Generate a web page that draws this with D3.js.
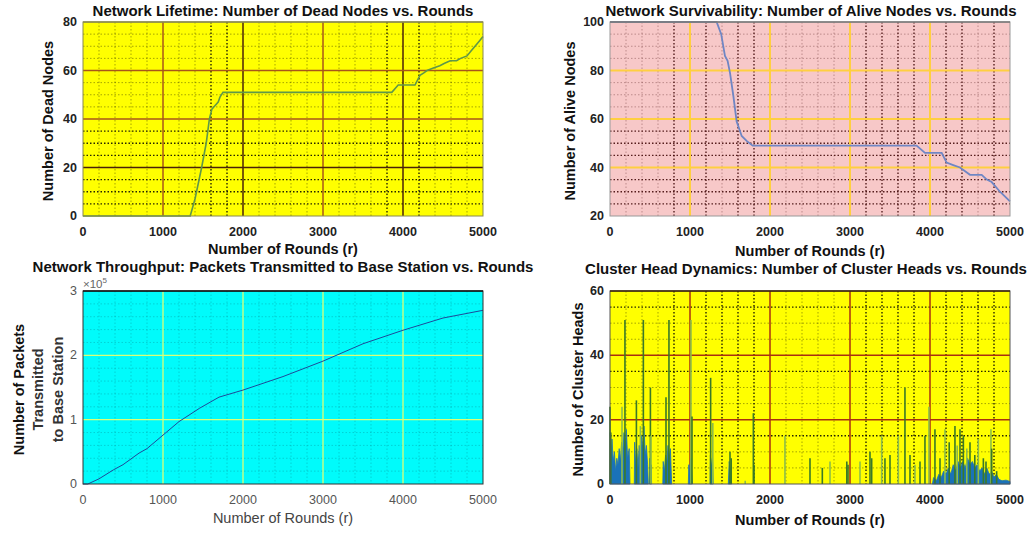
<!DOCTYPE html>
<html>
<head>
<meta charset="utf-8">
<script src="https://cdn.jsdelivr.net/npm/d3@7"></script>
<style>
  body { margin: 0; background: #ffffff; }
  svg { font-family: "Liberation Sans", Arial, sans-serif; }
</style>
</head>
<body>
<div id="chart"></div>
<script>
// rounds axis shared by all four plots
var roundTicks = [0, 1000, 2000, 3000, 4000, 5000];

// network lifetime (dead nodes)
var deadRounds = [0, 1340, 1400, 1483, 1540, 1580, 1610, 1690, 1712, 1750, 3860, 3940, 4150, 4212, 4260, 4300, 4380, 4460, 4520, 4590, 4670, 4720, 4800, 4850, 4900, 4950, 5000];
var deadNodes  = [0, 0, 7, 20, 30, 40, 44, 47, 49, 51, 51, 54, 54, 58, 59, 60, 61, 62, 63, 64, 64, 65, 66, 68, 70, 72, 74];
var deadTicks = [0, 20, 40, 60, 80];

// network survivability (alive nodes)
var aliveRounds = [0, 1333, 1390, 1437, 1470, 1500, 1540, 1583, 1615, 1646, 1708, 1783, 3833, 3937, 4146, 4208, 4290, 4375, 4500, 4646, 4710, 4771, 4875, 5000];
var aliveNodes  = [100, 100, 95, 86, 84, 79, 70, 59, 56, 53, 51, 49, 49, 46, 46, 42, 41, 40, 37, 37, 35, 34, 30, 26];
var aliveTicks = [20, 40, 60, 80, 100];

// throughput (packets to base station)
var tpRounds  = [0, 60, 200, 380, 500, 700, 800, 1000, 1200, 1460, 1700, 2000, 2500, 3000, 3500, 4000, 4500, 5000];
var tpPackets = [0, 0, 8000, 22000, 30000, 48000, 55000, 76000, 97000, 118000, 135000, 146000, 167000, 191000, 218000, 239000, 258000, 270000];
var tpTicks = [0, 100000, 200000, 300000];

// cluster heads: single-round peaks and dense bursts (upper envelope)
var chSpikes = [[0,24],[10,16],[150,24],[187,51],[330,26],[380,18],[417,51],[505,30],[512,15],[700,27],[737,51],
  [1012,51],[1025,21],[1258,33],[1285,19],[1500,10],[1515,8],[1690,1],[1792,22],[1800,6],[2187,15],[2500,8],
  [2654,5],[2750,7],[2960,7],[2975,6],[3125,7],[3250,10],[3271,8],[3396,15],[3437,8],[3500,9],[3604,15],
  [3687,30],[3750,9],[3812,6],[3875,7],[3937,15],[3987,24],[4062,17],[4125,8],[4187,17],[4240,13],[4312,18],
  [4340,12],[4375,17],[4417,15],[4460,11],[4500,13],[4560,9],[4604,14],[4667,8],[4700,7],[4762,17],[4771,11],[4833,4]];
var chBursts = [
  [[0,0],[3,16],[15,9],[25,14],[40,7],[55,10],[70,4],[85,8],[100,6],[115,11],[130,7],[145,13],[160,10],[175,16],[190,12],[205,17],[220,8],[240,11],[250,0]],
  [[304,0],[308,13],[320,6],[335,11],[350,5],[365,12],[380,8],[395,15],[410,11],[425,18],[440,9],[455,12],[470,6],[479,0]],
  [[495,0],[500,8],[508,4],[515,6],[520,0]],
  [[660,0],[665,7],[680,4],[695,9],[710,6],[725,12],[740,8],[755,11],[771,0]],
  [[979,0],[985,6],[995,3],[1010,8],[1020,4],[1029,0]],
  [[1250,0],[1255,9],[1265,5],[1280,8],[1291,0]],
  [[1479,0],[1490,7],[1505,4],[1521,0]],
  [[4030,0],[4045,2],[4080,1],[4110,3],[4140,2],[4170,4],[4200,3],[4230,5],[4260,3],[4290,6],[4320,4],[4350,7],[4380,5],
   [4410,7],[4440,5],[4470,8],[4500,6],[4530,7],[4560,5],[4590,6],[4620,4],[4650,5],[4680,3],[4710,5],[4740,3],[4770,4],
   [4800,2],[4830,3],[4860,1.5],[4900,1],[4950,1.2],[5000,0.8]]
];
var chTicks = [0, 20, 40, 60];

var svg = d3.select("#chart")
            .append("svg")
            .attr("width", 1035)
            .attr("height", 533);

function zip(xs, ys){
  return xs.map(function(x, i){ return [x, ys[i]]; });
}

function drawPanel(p){
  var x = d3.scaleLinear().domain([0, 5000]).range([p.left, p.right]);
  var y = d3.scaleLinear().domain(p.yDomain).range([p.bottom, p.top]);
  var g = svg.append("g");

  g.append("rect")
   .attr("x", p.left).attr("y", p.top)
   .attr("width", p.right - p.left).attr("height", p.bottom - p.top)
   .attr("fill", p.bg);

  // minor grid (dotted)
  d3.range(200, 5000, 200).forEach(function(r){
    if (r % 1000 == 0) return;
    var heavy = p.heavyX.indexOf(r) >= 0;
    g.append("line")
     .attr("x1", x(r)).attr("x2", x(r)).attr("y1", p.top).attr("y2", p.bottom)
     .attr("stroke", p.minorColor)
     .attr("stroke-width", heavy ? 1.4 : 1)
     .attr("stroke-dasharray", "1.5,2")
     .attr("opacity", heavy ? 0.85 : p.minorOpacity);
  });
  d3.range(p.yDomain[0] + p.yMinor, p.yDomain[1], p.yMinor).forEach(function(v){
    if (p.yTicks.indexOf(v) >= 0) return;
    var heavy = p.heavyY.indexOf(v) >= 0;
    g.append("line")
     .attr("x1", p.left).attr("x2", p.right).attr("y1", y(v)).attr("y2", y(v))
     .attr("stroke", p.minorColor)
     .attr("stroke-width", heavy ? 1.4 : 1)
     .attr("stroke-dasharray", "1.5,2")
     .attr("opacity", heavy ? 0.85 : p.minorOpacity);
  });

  // major grid
  roundTicks.slice(1, -1).forEach(function(r){
    g.append("line")
     .attr("x1", x(r)).attr("x2", x(r)).attr("y1", p.top).attr("y2", p.bottom)
     .attr("stroke", p.darkX.indexOf(r) >= 0 ? p.majorDark : p.majorColor)
     .attr("stroke-width", p.majorWidth);
  });
  p.yTicks.slice(1, -1).forEach(function(v){
    g.append("line")
     .attr("x1", p.left).attr("x2", p.right).attr("y1", y(v)).attr("y2", y(v))
     .attr("stroke", p.darkY.indexOf(v) >= 0 ? p.majorDark : p.majorColor)
     .attr("stroke-width", p.majorWidth);
  });

  p.drawData(g, x, y);

  g.append("rect")
   .attr("x", p.left).attr("y", p.top)
   .attr("width", p.right - p.left).attr("height", p.bottom - p.top)
   .attr("fill", "none")
   .attr("stroke", p.border)
   .attr("stroke-width", 1);
  g.append("line")
   .attr("x1", p.left).attr("x2", p.right).attr("y1", p.top).attr("y2", p.top)
   .attr("stroke", p.topBorder).attr("stroke-width", 1.5);

  // tick labels
  g.selectAll(".xt").data(roundTicks).enter().append("text")
   .attr("x", function(d){ return x(d); })
   .attr("y", p.bottom + 20)
   .attr("text-anchor", "middle")
   .attr("font-size", "12.5px")
   .attr("font-weight", p.tickWeight)
   .attr("fill", p.tickColor)
   .text(function(d){ return d; });
  g.selectAll(".yt").data(p.yTicks).enter().append("text")
   .attr("x", p.left - 6)
   .attr("y", function(d){ return y(d) + 4; })
   .attr("text-anchor", "end")
   .attr("font-size", "12.5px")
   .attr("font-weight", p.tickWeight)
   .attr("fill", p.tickColor)
   .text(function(d){ return p.tickFormat ? p.tickFormat(d) : d; });

  // titles and labels
  g.append("text")
   .attr("x", p.titleX).attr("y", p.titleY)
   .attr("text-anchor", "middle")
   .attr("font-size", "15px").attr("font-weight", "bold").attr("fill", "#111")
   .text(p.title);
  g.append("text")
   .attr("x", (p.left + p.right) / 2).attr("y", p.xLabelY)
   .attr("text-anchor", "middle")
   .attr("font-size", "14.5px")
   .attr("font-weight", p.xLabelWeight)
   .attr("fill", p.xLabelColor)
   .text("Number of Rounds (r)");
  p.yLabel.forEach(function(line, i){
    g.append("text")
     .attr("transform", "translate(" + p.yLabelX[i] + "," + ((p.top + p.bottom) / 2 + 2) + ") rotate(-90)")
     .attr("text-anchor", "middle")
     .attr("dominant-baseline", "central")
     .attr("font-size", "14.5px")
     .attr("font-weight", "bold")
     .attr("fill", i == 0 ? "#111" : "#333")
     .text(line);
  });
}

var yellowGrid = {
  bg: "#ffff00", minorColor: "#000", minorOpacity: 0.35,
  majorColor: "#a8561a", majorDark: "#4a2208", majorWidth: 1.5,
  tickWeight: "bold", tickColor: "#222", xLabelWeight: "bold", xLabelColor: "#111"
};

drawPanel(Object.assign({}, yellowGrid, {
  left: 83, right: 483, top: 22, bottom: 216,
  yDomain: [0, 80], yTicks: deadTicks, yMinor: 5,
  heavyX: [1600, 1800, 3800, 4200], heavyY: [5, 10, 15, 25, 30, 35],
  darkX: [2000, 4000], darkY: [20],
  border: "#8a8a50", topBorder: "#8a8a50",
  title: "Network Lifetime: Number of Dead Nodes vs. Rounds", titleX: 283, titleY: 16,
  xLabelY: 254, yLabel: ["Number of Dead Nodes"], yLabelX: [48],
  drawData: function(g, x, y){
    g.append("path")
     .datum(zip(deadRounds, deadNodes))
     .attr("fill", "none")
     .attr("stroke", "#5f9848")
     .attr("stroke-width", 1.6)
     .attr("d", d3.line().x(function(d){ return x(d[0]); }).y(function(d){ return y(d[1]); }));
  }
}));

drawPanel({
  left: 610, right: 1010, top: 22, bottom: 216,
  yDomain: [20, 100], yTicks: aliveTicks, yMinor: 5,
  bg: "#f7c8c8", minorColor: "#3a0000", minorOpacity: 0.3,
  majorColor: "#ffcf40", majorDark: "#ffcf40", majorWidth: 2,
  heavyX: [800, 1200, 1600, 1800, 3200, 3400, 3600, 3800, 4200, 4400, 4800], heavyY: [25, 30, 35, 45, 50, 55],
  darkX: [], darkY: [],
  border: "#999", topBorder: "#777",
  tickWeight: "bold", tickColor: "#222", xLabelWeight: "bold", xLabelColor: "#111",
  title: "Network Survivability: Number of Alive Nodes vs. Rounds", titleX: 811, titleY: 16,
  xLabelY: 256, yLabel: ["Number of Alive Nodes"], yLabelX: [570],
  drawData: function(g, x, y){
    g.append("path")
     .datum(zip(aliveRounds, aliveNodes))
     .attr("fill", "none")
     .attr("stroke", "#6f86c4")
     .attr("stroke-width", 1.8)
     .attr("d", d3.line().x(function(d){ return x(d[0]); }).y(function(d){ return y(d[1]); }));
  }
});

drawPanel({
  left: 83, right: 483, top: 291, bottom: 484,
  yDomain: [0, 300000], yTicks: tpTicks, yMinor: 20000,
  bg: "#00fbfb", minorColor: "#007a80", minorOpacity: 0.3,
  majorColor: "#d8ff78", majorDark: "#d8ff78", majorWidth: 1.3,
  heavyX: [], heavyY: [],
  darkX: [], darkY: [],
  border: "#333", topBorder: "#111",
  tickWeight: "normal", tickColor: "#555", xLabelWeight: "normal", xLabelColor: "#444",
  tickFormat: function(d){ return d / 100000; },
  title: "Network Throughput: Packets Transmitted to Base Station vs. Rounds", titleX: 283, titleY: 272,
  xLabelY: 523, yLabel: ["Number of Packets", "Transmitted", "to Base Station"], yLabelX: [19, 38, 58],
  drawData: function(g, x, y){
    g.append("path")
     .datum(zip(tpRounds, tpPackets))
     .attr("fill", "none")
     .attr("stroke", "#1e4a9a")
     .attr("stroke-width", 1)
     .attr("d", d3.line().x(function(d){ return x(d[0]); }).y(function(d){ return y(d[1]); }));
    var ex = g.append("text")
              .attr("x", 83).attr("y", 288)
              .attr("font-size", "11.5px").attr("fill", "#666");
    ex.append("tspan").text("\u00d710");
    ex.append("tspan").attr("dy", -5).attr("font-size", "8px").text("5");
  }
});

drawPanel(Object.assign({}, yellowGrid, {
  left: 610, right: 1010, top: 291, bottom: 484,
  yDomain: [0, 60], yTicks: chTicks, yMinor: 5,
  majorColor: "#a83010", majorDark: "#8a2008",
  heavyX: [800, 1200, 1400, 1600, 1800, 3200, 3400, 3600, 3800, 4200, 4400, 4600, 4800], heavyY: [15, 35, 55],
  darkX: [], darkY: [],
  border: "#555", topBorder: "#3a2008",
  title: "Cluster Head Dynamics: Number of Cluster Heads vs. Rounds", titleX: 806, titleY: 274,
  xLabelY: 525, yLabel: ["Number of Cluster Heads"], yLabelX: [578],
  drawData: function(g, x, y){
    var area = d3.area()
                 .x(function(d){ return x(d[0]); })
                 .y0(y(0))
                 .y1(function(d){ return y(d[1]); });
    g.selectAll(".burst")
     .data(chBursts)
     .enter()
     .append("path")
     .attr("fill", "#1a72b8")
     .attr("stroke", "#1a72b8")
     .attr("stroke-width", 0.8)
     .attr("d", area);
    g.selectAll(".spike")
     .data(chSpikes)
     .enter()
     .append("line")
     .attr("x1", function(d){ return x(d[0]); })
     .attr("x2", function(d){ return x(d[0]); })
     .attr("y1", y(0))
     .attr("y2", function(d){ return y(d[1]); })
     .attr("stroke", function(d, i){ return i % 3 == 2 ? "#8cbd4a" : "#3a7a28"; })
     .attr("stroke-width", 1.6);
  }
}));
</script>
</body>
</html>
